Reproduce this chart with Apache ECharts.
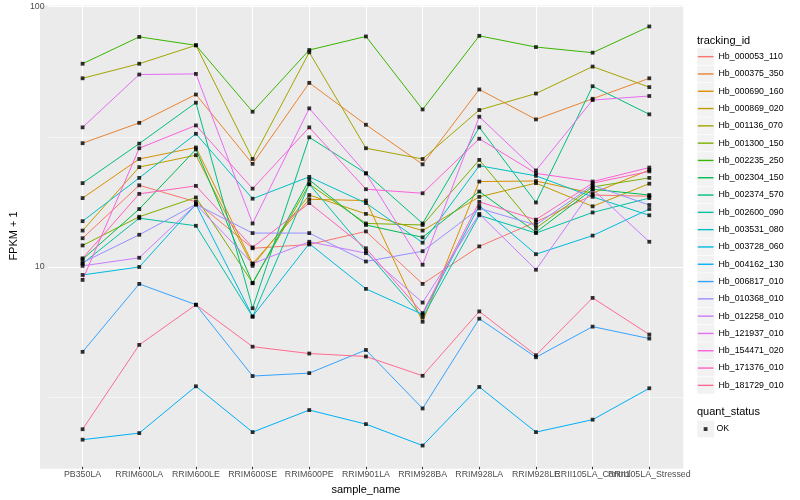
<!DOCTYPE html>
<html>
<head>
<meta charset="utf-8">
<script src="https://cdn.jsdelivr.net/npm/echarts@6/dist/echarts.min.js"></script>
<style>html,body{margin:0;padding:0;background:#fff}#c{width:800px;height:500px}</style>
</head>
<body>
<div id="c"></div>
<script>
const categories = ['PB350LA','RRIM600LA','RRIM600LE','RRIM600SE','RRIM600PE','RRIM901LA','RRIM928BA','RRIM928LA','RRIM928LE','RRII105LA_Control','RRII105LA_Stressed'];

const Hb_000053_110 = [12.9, 20.6, 17.8, 11.8, 12.2, 13.7, 8.61, 12.0, 14.9, 18.9, 18.7];
const Hb_000375_350 = [29.9, 35.8, 46.0, 24.9, 51.0, 35.2, 24.8, 48.1, 36.9, 44.3, 53.1];
const Hb_000690_160 = [18.4, 26.0, 28.8, 10.3, 18.2, 18.0, 6.16, 21.3, 21.4, 19.2, 23.6];
const Hb_000869_020 = [13.8, 24.2, 26.9, 10.1, 18.9, 16.0, 13.8, 18.6, 21.0, 17.1, 20.9];
const Hb_001136_070 = [53.1, 60.4, 71.1, 26.0, 66.8, 28.6, 26.0, 40.1, 46.4, 58.9, 49.1];
const Hb_001300_150 = [12.1, 15.6, 18.5, 8.69, 20.8, 14.7, 14.5, 25.8, 14.1, 20.3, 22.0];
const Hb_002235_250 = [60.4, 76.6, 71.1, 39.5, 68.2, 76.9, 40.3, 77.3, 70.0, 66.6, 84.0];
const Hb_002304_150 = [10.7, 16.7, 28.3, 8.66, 21.6, 14.5, 13.0, 19.5, 13.6, 19.9, 18.9];
const Hb_002374_570 = [21.0, 29.8, 42.8, 6.94, 31.5, 22.9, 14.7, 34.4, 17.7, 49.5, 38.6];
const Hb_002600_090 = [10.3, 15.4, 14.4, 6.44, 20.8, 11.5, 6.40, 15.8, 13.5, 16.2, 18.4];
const Hb_003531_080 = [15.0, 22.0, 32.5, 18.3, 22.2, 17.6, 12.4, 24.5, 22.4, 18.6, 15.8];
const Hb_003728_060 = [9.32, 10.0, 17.4, 6.46, 12.3, 8.24, 6.57, 17.2, 11.2, 13.2, 16.7];
const Hb_004162_130 = [2.17, 2.30, 3.48, 2.32, 2.82, 2.49, 2.06, 3.46, 2.32, 2.59, 3.42];
const Hb_006817_010 = [4.72, 8.61, 7.16, 3.81, 3.91, 4.80, 2.86, 6.33, 4.50, 5.90, 5.31];
const Hb_010368_010 = [10.4, 13.3, 17.4, 13.5, 13.5, 10.5, 11.5, 16.8, 14.5, 20.6, 17.3];
const Hb_012258_010 = [10.1, 10.85, 17.4, 10.3, 12.5, 11.3, 7.30, 16.0, 9.76, 19.9, 12.5];
const Hb_121937_010 = [34.4, 54.9, 55.2, 14.7, 40.7, 22.9, 10.2, 37.8, 23.5, 43.8, 45.4];
const Hb_154471_020 = [8.92, 28.6, 35.0, 20.0, 34.4, 19.9, 19.2, 31.1, 22.9, 21.3, 24.1];
const Hb_171376_010 = [10.8, 19.1, 20.5, 11.9, 17.6, 11.8, 6.65, 17.8, 15.2, 21.0, 23.3];
const Hb_181729_010 = [2.38, 5.02, 7.16, 4.94, 4.65, 4.53, 3.82, 6.75, 4.58, 7.61, 5.50];

const yTicks = [10, 100];
const yMinorGrid = [3.1623, 31.623];

const seriesNames = ['Hb_000053_110','Hb_000375_350','Hb_000690_160','Hb_000869_020','Hb_001136_070','Hb_001300_150','Hb_002235_250','Hb_002304_150','Hb_002374_570','Hb_002600_090','Hb_003531_080','Hb_003728_060','Hb_004162_130','Hb_006817_010','Hb_010368_010','Hb_012258_010','Hb_121937_010','Hb_154471_020','Hb_171376_010','Hb_181729_010'];
const seriesValues = [Hb_000053_110,Hb_000375_350,Hb_000690_160,Hb_000869_020,Hb_001136_070,Hb_001300_150,Hb_002235_250,Hb_002304_150,Hb_002374_570,Hb_002600_090,Hb_003531_080,Hb_003728_060,Hb_004162_130,Hb_006817_010,Hb_010368_010,Hb_012258_010,Hb_121937_010,Hb_154471_020,Hb_171376_010,Hb_181729_010];
const colors = ['#F8766D','#EA8331','#D89000','#C09B00','#A3A500','#7CAE00','#39B600','#00BB4E','#00BF7D','#00C1A3','#00BFC4','#00BAE0','#00B0F6','#35A2FF','#9590FF','#C77CFF','#E76BF3','#FA62DB','#FF62BC','#FF6C91'];

const FONT = 'Liberation Sans, Arial, sans-serif';
const catIdx = categories.map((c, i) => i);
const evenIdx = catIdx.filter(i => i % 2 === 0);
const oddIdx = catIdx.filter(i => i % 2 === 1);
const SQUARE = 'path://M0,0L10,0L10,10L0,10Z';

const chart = echarts.init(document.getElementById('c'), null, {renderer: 'canvas'});

const series = [];
const gridLines = [];
catIdx.forEach(i => gridLines.push({xAxis: i, lineStyle: {color: '#fff', width: 1.1, type: 'solid'}}));
yTicks.forEach(v => gridLines.push({yAxis: v, lineStyle: {color: '#fff', width: 1.1, type: 'solid'}}));
yMinorGrid.forEach(v => gridLines.push({yAxis: v, lineStyle: {color: '#fff', width: 0.55, type: 'solid'}}));
series.push({
  name: '__grid', type: 'line', data: [[0, 10]], z: 1, silent: true,
  showSymbol: false, lineStyle: {opacity: 0},
  markLine: {silent: true, z: 1, symbol: ['none','none'], label: {show: false}, animation: false, data: gridLines}
});

seriesNames.forEach((n, k) => {
  series.push({
    name: n, type: 'line', z: 2,
    data: seriesValues[k].map((v, i) => [i, v]),
    showSymbol: false, symbol: 'none',
    lineStyle: {color: colors[k], width: 1},
    itemStyle: {color: colors[k]},
    emphasis: {disabled: true}
  });
});

const okPoints = [];
seriesValues.forEach(arr => arr.forEach((v, i) => okPoints.push([i, v])));
series.push({
  name: 'OK', type: 'scatter', z: 3, data: okPoints,
  symbol: SQUARE, symbolSize: [3.8, 3.8], symbolKeepAspect: true,
  itemStyle: {color: '#000', borderWidth: 0}, emphasis: {disabled: true}
});

const graphics = [
  {type: 'rect', z: -10, shape: {x: 40, y: 5.4, width: 643.3, height: 463.3}, style: {fill: '#EBEBEB'}},
  {type: 'text', z: 10, style: {x: 697, y: 40.7, text: 'tracking_id', font: '11px ' + FONT, fill: '#000', verticalAlign: 'middle'}},
  {type: 'text', z: 10, style: {x: 697, y: 412.3, text: 'quant_status', font: '11px ' + FONT, fill: '#000', verticalAlign: 'middle'}},
  {type: 'rect', z: -5, shape: {x: 697, y: 420.4, width: 17.3, height: 17.3}, style: {fill: '#F2F2F2', stroke: '#fff', lineWidth: 0.5}}
];
seriesNames.forEach((n, k) => {
  graphics.push({type: 'rect', z: -5, shape: {x: 697, y: 48 + k * 17.3, width: 17.3, height: 17.3}, style: {fill: '#F2F2F2', stroke: '#fff', lineWidth: 0.5}});
});

const xLabelStyle = {show: true, formatter: v => categories[Math.round(v)], fontSize: 8.8, color: '#4D4D4D', fontFamily: FONT, margin: 3.5, hideOverlap: false, showMinLabel: true, showMaxLabel: true};

const option = {
  animation: false,
  backgroundColor: '#fff',
  grid: {left: 40, right: 116.7, top: 5.4, bottom: 31.3, containLabel: false},
  xAxis: [{
    type: 'value', min: -0.6, max: 10.6,
    name: 'sample_name', nameLocation: 'middle', nameGap: 15,
    nameTextStyle: {fontSize: 11, color: '#000', fontFamily: FONT},
    axisLine: {show: false},
    axisTick: {show: true, length: 2.75, lineStyle: {color: '#333', width: 1}, customValues: catIdx},
    axisLabel: Object.assign({customValues: evenIdx}, xLabelStyle),
    splitLine: {show: false}
  }, {
    type: 'value', min: -0.6, max: 10.6, position: 'bottom',
    axisLine: {show: false}, axisTick: {show: false}, splitLine: {show: false},
    axisLabel: Object.assign({customValues: oddIdx}, xLabelStyle)
  }],
  yAxis: {
    type: 'log', logBase: 10, min: 1.71, max: 101.2,
    name: 'FPKM + 1', nameLocation: 'middle', nameGap: 24,
    nameTextStyle: {fontSize: 11, color: '#000', fontFamily: FONT},
    axisLine: {show: false},
    axisTick: {show: true, length: 2.75, lineStyle: {color: '#333', width: 1}, customValues: yTicks},
    axisLabel: {show: true, customValues: yTicks, fontSize: 8.8, color: '#4D4D4D', fontFamily: FONT, margin: 4, formatter: v => String(Math.round(v)), showMinLabel: true, showMaxLabel: true},
    splitLine: {show: false},
    minorSplitLine: {show: false}
  },
  legend: [
    {
      data: seriesNames.map(n => ({name: n, icon: 'rect'})),
      orient: 'vertical', left: 697.8, top: 48, padding: 0,
      itemWidth: 15.7, itemHeight: 1.4, itemGap: 0,
      selectedMode: false,
      textStyle: {fontSize: 8.8, lineHeight: 17.3, color: '#000', fontFamily: FONT}
    },
    {
      data: [{name: 'OK', icon: 'rect'}],
      orient: 'vertical', left: 703.7, top: 420.4, padding: 0,
      itemWidth: 3.8, itemHeight: 3.8, itemGap: 0,
      selectedMode: false,
      textStyle: {fontSize: 8.8, lineHeight: 17.3, color: '#000', fontFamily: FONT, padding: [0, 0, 0, 4]}
    }
  ],
  graphic: graphics,
  series: series
};
chart.setOption(option);
</script>
</body>
</html>
